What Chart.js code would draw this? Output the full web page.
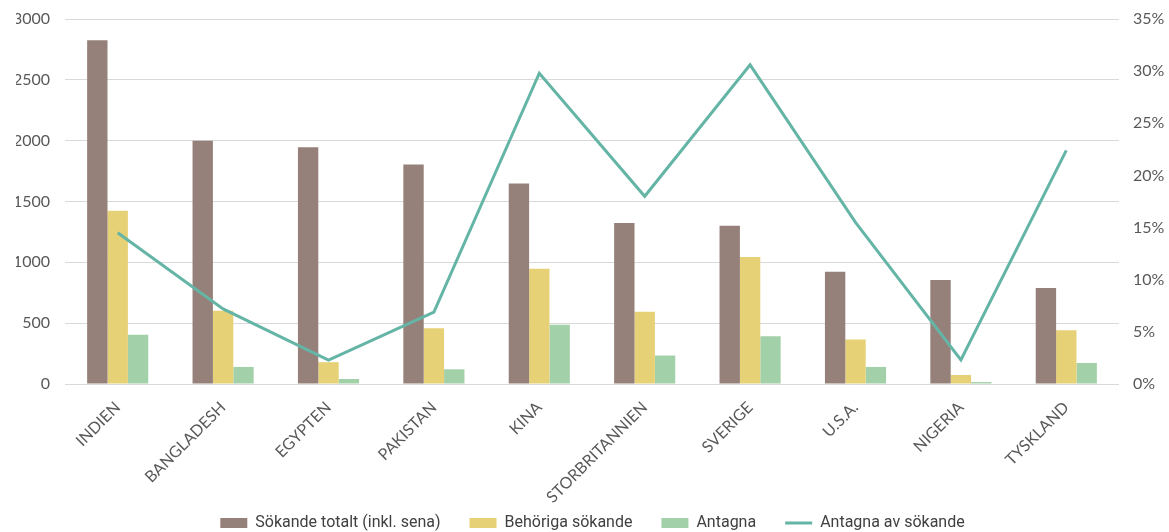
<!DOCTYPE html>
<html>
<head>
<meta charset="utf-8">
<script src="https://cdn.jsdelivr.net/npm/chart.js@4.4.1/dist/chart.umd.min.js"></script>
<style>
    html, body { margin: 0; padding: 0; background: #fff; }
    #wrap { width: 1169px; height: 532px; }
</style>
</head>
<body>
<div id="wrap"><canvas id="applicantsChart"></canvas></div>
<script>
// Data
const countries = ['INDIEN', 'BANGLADESH', 'EGYPTEN', 'PAKISTAN', 'KINA', 'STORBRITANNIEN', 'SVERIGE', 'U.S.A.', 'NIGERIA', 'TYSKLAND'];
const applicantsTotal = [2825, 2000, 1945, 1805, 1648, 1324, 1300, 923, 855, 789];
const eligibleApplicants = [1423, 602, 179, 459, 948, 593, 1044, 365, 74, 442];
const admitted = [404, 140, 41, 121, 486, 234, 393, 140, 16, 173];
const admittedShare = [14.5, 7.2, 2.3, 6.9, 29.8, 18.0, 30.6, 15.5, 2.3, 22.4]; // percent

const seriesNames = ['Sökande totalt (inkl. sena)', 'Behöriga sökande', 'Antagna', 'Antagna av sökande'];

const tickColor = '#595959';
const gridColor = '#d9d9d9';

function renderChart() {
    const ctx = document.getElementById('applicantsChart').getContext('2d');

    const barDefaults = {
        type: 'bar',
        yAxisID: 'y',
        order: 1,
        pointStyle: 'rect',
        categoryPercentage: 0.58,
        barPercentage: 1.0
    };

    // fixed axis sizes so the plot area lands where it is in the original
    const fixWidth = (w) => (scale) => {
        scale.width = w;
        scale.paddingTop = 0;
        scale.paddingBottom = 0;
    };

    window.applicantsChart = new Chart(ctx, {
        data: {
            labels: countries,
            datasets: [
                { ...barDefaults, label: seriesNames[0], data: applicantsTotal, backgroundColor: '#95817a' },
                { ...barDefaults, label: seriesNames[1], data: eligibleApplicants, backgroundColor: '#e6d176' },
                { ...barDefaults, label: seriesNames[2], data: admitted, backgroundColor: '#a2d1a9' },
                {
                    type: 'line',
                    label: seriesNames[3],
                    data: admittedShare,
                    yAxisID: 'y1',
                    order: 0, // draw the line on top of the bars
                    borderColor: '#64b5a6',
                    backgroundColor: '#64b5a6',
                    borderWidth: 3,
                    pointRadius: 0,
                    pointStyle: 'line',
                    tension: 0
                }
            ]
        },
        options: {
            responsive: true,
            maintainAspectRatio: false,
            animation: false,
            layout: { padding: { top: 19, left: 16, right: 0, bottom: -9 } },
            plugins: {
                title: { display: false },
                tooltip: { enabled: false },
                legend: {
                    position: 'bottom',
                    labels: {
                        usePointStyle: true,
                        pointStyleWidth: 27,
                        boxHeight: 10,
                        padding: 29,
                        color: '#404040',
                        font: { family: '"Liberation Sans Narrow", "Roboto", sans-serif', size: 16 },
                        sort: (a, b) => a.datasetIndex - b.datasetIndex
                    }
                }
            },
            scales: {
                x: {
                    grid: { display: false },
                    border: { display: false },
                    ticks: {
                        minRotation: 45,
                        maxRotation: 45,
                        color: tickColor,
                        padding: 6,
                        font: { family: 'Lato, sans-serif', size: 16 }
                    },
                    afterFit: (scale) => {
                        scale.height = 102;
                        scale._computeLabelArea = () => undefined; // let long rotated labels run past the axis box
                    }
                },
                y: {
                    position: 'left',
                    min: 0,
                    max: 3000,
                    ticks: {
                        stepSize: 500,
                        color: tickColor,
                        padding: 15,
                        font: { family: 'Lato, sans-serif', size: 16 },
                        callback: (v) => String(v)
                    },
                    grid: { color: gridColor, lineWidth: 1, drawTicks: false },
                    border: { display: false },
                    afterFit: fixWidth(49)
                },
                y1: {
                    position: 'right',
                    min: 0,
                    max: 35,
                    ticks: {
                        stepSize: 5,
                        color: tickColor,
                        padding: 14,
                        font: { family: 'Lato, sans-serif', size: 16 },
                        callback: (v) => v + '%'
                    },
                    grid: { drawOnChartArea: false, drawTicks: false },
                    border: { display: false },
                    afterFit: fixWidth(50)
                }
            }
        }
    });
}

window.onload = renderChart;
</script>
</body>
</html>
